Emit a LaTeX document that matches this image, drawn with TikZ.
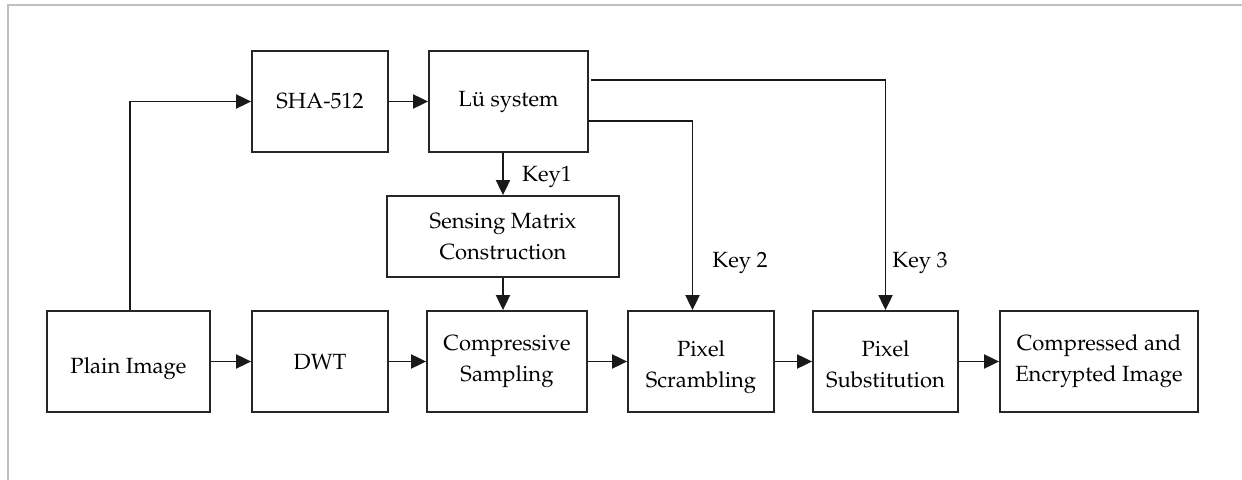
\documentclass[tikz,border=0pt]{standalone}
\usepackage[T1]{fontenc}
\usepackage{mathpazo}
\usetikzlibrary{arrows.meta,calc}
\tikzset{
  box/.style={draw=black!85, line width=0.9pt, align=center, inner sep=0pt,
    font=\fontsize{11}{15.5}\selectfont, text=black},
  arr/.style={line width=0.95pt, draw=black!90, -{Triangle[length=7.5pt,width=7pt]}},
  keylab/.style={font=\fontsize{11}{13}\selectfont, inner sep=0pt, text=black},
  frame/.style={draw=black!25, line width=1pt}
}
\newcommand{\lowtext}[2]{\raisebox{#1}[0pt][0pt]{\begin{tabular}{@{}c@{}}#2\end{tabular}}}
\begin{document}
\begin{tikzpicture}[x=0.5pt,y=-0.5pt]
\useasboundingbox (0,0) rectangle (1242,480);
\draw[frame] (7.5,480) -- (7.5,5) -- (1242,5);

% top row
\node[box, minimum width=68pt, minimum height=50.5pt] (sha) at (320,101.5) {SHA-512};
\node[box, minimum width=79.5pt, minimum height=50.5pt] (lu) at (508.5,101.5) {L\"{u} system};
\node[box, minimum width=116pt, minimum height=40.5pt] (sens) at (503,236.5) {Sensing Matrix\\Construction};

% bottom row
\node[box, minimum width=81.5pt, minimum height=50.5pt] (plain) at (128.5,361.5) {\raisebox{-6pt}[0pt][0pt]{Plain Image}};
\node[box, minimum width=68pt, minimum height=50.5pt] (dwt) at (320,361.5) {DWT};
\node[box, minimum width=80pt, minimum height=50.5pt] (comp) at (507,361.5) {Compressive\\Sampling};
\node[box, minimum width=73pt, minimum height=50.5pt] (scr) at (701,361.5) {\lowtext{-5pt}{Pixel\\Scrambling}};
\node[box, minimum width=72.5pt, minimum height=50.5pt] (sub) at (885.5,361.5) {\lowtext{-5pt}{Pixel\\Substitution}};
\node[box, minimum width=99pt, minimum height=50.5pt] (out) at (1099,361.5) {Compressed and\\Encrypted Image};

% key labels
\node[keylab] (k1) at (547,177) {Key1};
\node[keylab] (k2) at (740,263) {Key 2};
\node[keylab] (k3) at (920,263) {Key 3};

% coordinates
\coordinate (pu) at (130,101.5);
\coordinate (l2) at (588,121);
\coordinate (l2c) at (692.5,121);
\coordinate (l3) at (591,80);
\coordinate (l3c) at (885.5,80);

% connectors
\draw[arr] (plain.north -| pu) -- (pu) -- (sha.west);
\draw[arr] (sha.east) -- (lu.west);
\draw[arr] (sens.north |- lu.south) -- (sens.north);
\draw[arr] (sens.south) -- (sens.south |- comp.north);
\draw[arr] (l2) -- (l2c) -- (l2c |- scr.north);
\draw[arr] (l3) -- (l3c) -- (sub.north);
\draw[arr] (plain.east) -- (dwt.west);
\draw[arr] (dwt.east) -- (comp.west);
\draw[arr] (comp.east) -- (scr.west);
\draw[arr] (scr.east) -- (sub.west);
\draw[arr] (sub.east) -- (out.west);
\end{tikzpicture}
\end{document}
